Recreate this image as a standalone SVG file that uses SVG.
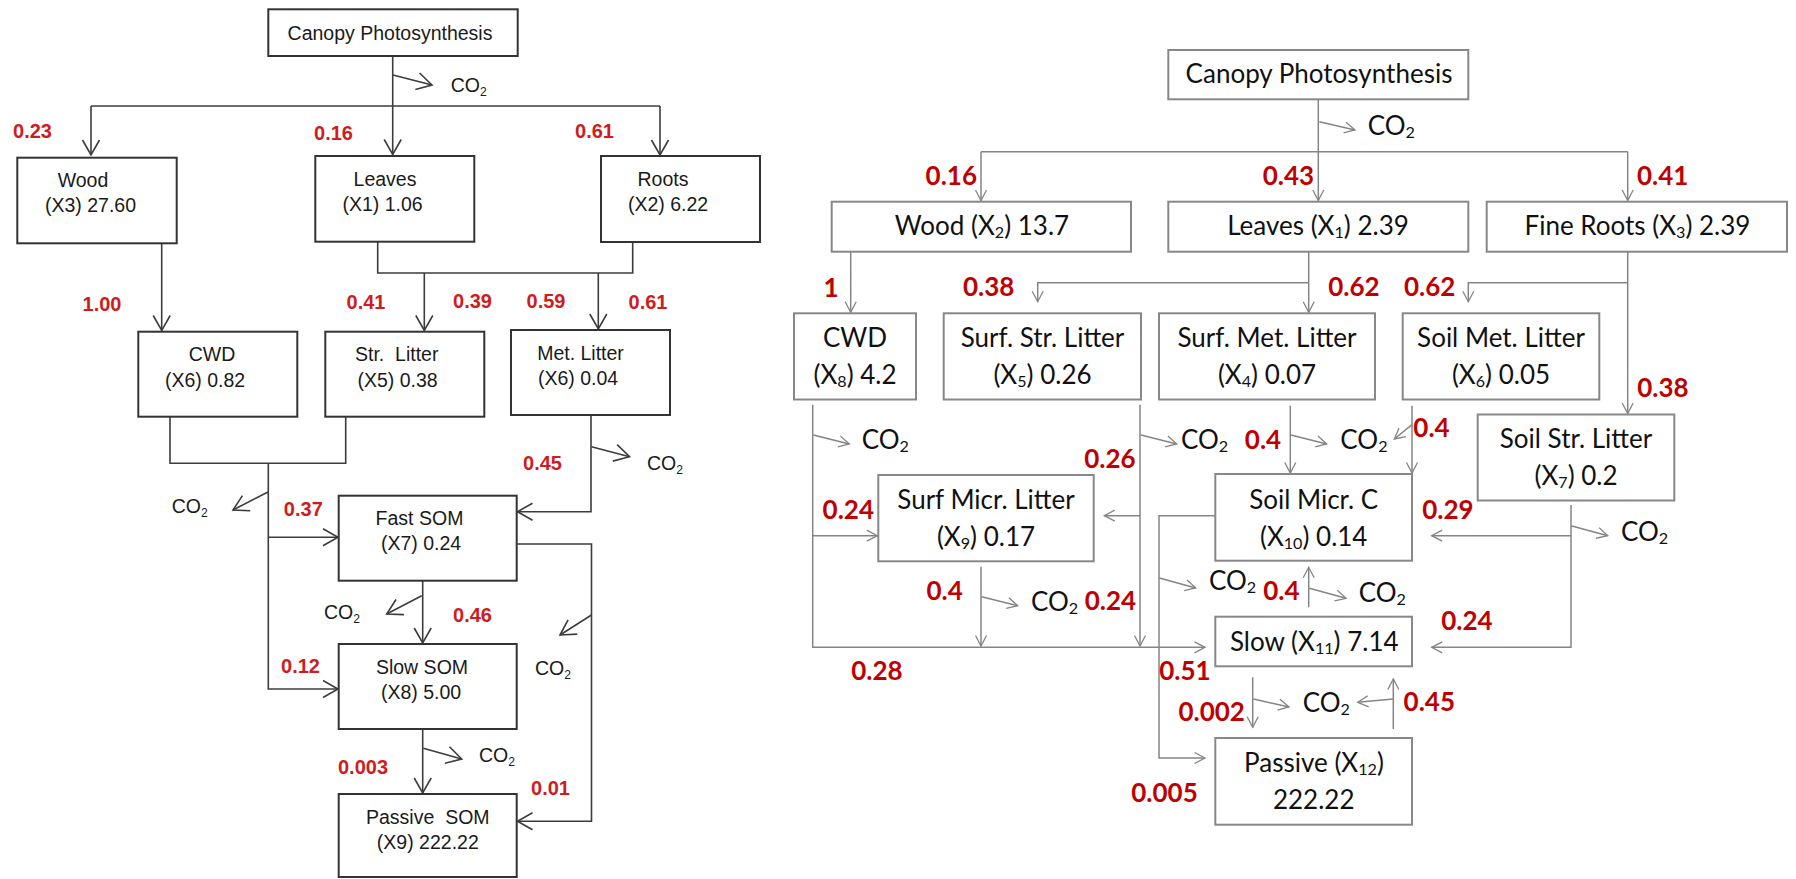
<svg xmlns="http://www.w3.org/2000/svg" width="1796" height="879" viewBox="0 0 1796 879">
<style>
.bl{fill:#fff;stroke:#333;stroke-width:2}
.br{fill:#fff;stroke:#888;stroke-width:2}
.cl{fill:none;stroke:#3c3c3c;stroke-width:1.6}
.cr{fill:none;stroke:#858585;stroke-width:1.5}
.ml{marker-end:url(#al)}
.mr{marker-end:url(#ar)}
.lt{font-family:"Liberation Sans",Arial,sans-serif;font-size:19.5px;fill:#1a1a1a;text-anchor:middle}
.lc{font-family:"Liberation Sans",Arial,sans-serif;font-size:19.5px;fill:#1a1a1a}
.ll{font-family:"Liberation Sans",Arial,sans-serif;font-size:20px;font-weight:bold;fill:#d01c1c;text-anchor:middle}
.rt{font-family:Lato,"Liberation Sans",sans-serif;font-size:26px;fill:#111;text-anchor:middle}
.rc{font-family:Lato,"Liberation Sans",sans-serif;font-size:26px;fill:#111}
.rl{font-family:Lato,"Liberation Sans",sans-serif;font-size:26px;font-weight:bold;fill:#c00000;text-anchor:middle}
.s{font-size:62%}
</style>
<defs>
<marker id="al" markerUnits="userSpaceOnUse" viewBox="-17 -10 19 20" markerWidth="19" markerHeight="20" refX="0" refY="0" orient="auto" overflow="visible">
<path d="M-15,-8.5 L0,0 L-15,8.5" fill="none" stroke="#3c3c3c" stroke-width="1.6"/>
</marker>
<marker id="ar" markerUnits="userSpaceOnUse" viewBox="-12 -7 14 14" markerWidth="14" markerHeight="14" refX="0" refY="0" orient="auto" overflow="visible">
<path d="M-10.5,-5.5 L0,0 L-10.5,5.5" fill="none" stroke="#858585" stroke-width="1.3"/>
</marker>
</defs>
<rect width="1796" height="879" fill="#fff"/>

<g id="connectors">
<g id="left-connectors">
<path class="cl ml" d="M392.7,56 V154.5"/>
<path class="cl ml" d="M393,75 L432,85"/>
<path class="cl" d="M91,106 H660"/>
<path class="cl ml" d="M91,106 V155"/>
<path class="cl ml" d="M660,106 V155"/>
<path class="cl ml" d="M161.7,243.3 V330.5"/>
<path class="cl" d="M377.7,241.7 V273 H632.7 V242"/>
<path class="cl ml" d="M424.3,273 V330.5"/>
<path class="cl ml" d="M598.3,273 V329"/>
<path class="cl" d="M170,416.7 V463.3 H345.7 V415"/>
<path class="cl ml" d="M268.3,463.3 V689 H338"/>
<path class="cl ml" d="M268.3,537.3 H338"/>
<path class="cl ml" d="M268,492 L233,510"/>
<path class="cl ml" d="M591,415 V511.7 H517.5"/>
<path class="cl ml" d="M591.5,446.7 L629.5,456.7"/>
<path class="cl ml" d="M516.7,544 H591.5 V821.3 H517.5"/>
<path class="cl ml" d="M591.5,615 L560,635"/>
<path class="cl ml" d="M422.7,580.7 V643"/>
<path class="cl ml" d="M421.7,595.7 L386.7,614"/>
<path class="cl ml" d="M422.7,729 V793"/>
<path class="cl ml" d="M423.3,748.3 L461.7,759"/>
</g>
<g id="right-connectors">
<path class="cr mr" d="M1318.3,99.3 V200.5"/>
<path class="cr mr" d="M1319.3,121.7 L1355,130"/>
<path class="cr" d="M981,151.7 H1627.7"/>
<path class="cr mr" d="M981,151.7 V200.5"/>
<path class="cr mr" d="M1627.7,151.7 V200.5"/>
<path class="cr mr" d="M850.7,251.7 V312.3"/>
<path class="cr mr" d="M1308.7,251.7 V312.3"/>
<path class="cr mr" d="M1308.7,282.7 H1037.7 V301.7"/>
<path class="cr mr" d="M1627.7,251.7 V413.5"/>
<path class="cr mr" d="M1627.7,282.7 H1468.3 V301.7"/>
<path class="cr mr" d="M812.7,404.7 V647.3 H1205"/>
<path class="cr mr" d="M812.7,535.7 H877.3"/>
<path class="cr mr" d="M813.3,435 L849.3,444"/>
<path class="cr mr" d="M1140,404.7 V646"/>
<path class="cr mr" d="M1140,515.7 H1104.3"/>
<path class="cr mr" d="M1141,435 L1176.7,444"/>
<path class="cr mr" d="M981,566.7 V646"/>
<path class="cr mr" d="M981.7,596.7 L1017.7,605.7"/>
<path class="cr mr" d="M1290.3,405.7 V473"/>
<path class="cr mr" d="M1291,435 L1326.7,444"/>
<path class="cr mr" d="M1412,405.7 V473"/>
<path class="cr mr" d="M1412,424.7 L1394.3,439"/>
<path class="cr mr" d="M1215.3,515.7 H1159 V758 H1205"/>
<path class="cr mr" d="M1159.3,578 L1195.7,588"/>
<path class="cr mr" d="M1308.7,607.3 V567.3"/>
<path class="cr mr" d="M1309.3,588.3 L1346,598.3"/>
<path class="cr mr" d="M1571,505 V647.3 H1431.7"/>
<path class="cr mr" d="M1571,535.7 H1431.7"/>
<path class="cr mr" d="M1571,525.7 L1607.7,535.7"/>
<path class="cr mr" d="M1252.7,677.3 V727.3"/>
<path class="cr mr" d="M1253.3,699 L1289,707"/>
<path class="cr mr" d="M1393.3,729 V679"/>
<path class="cr mr" d="M1393.3,699 L1357.7,702.3"/>
</g>
</g>

<g id="left-nodes">
<g id="l-canopy"><rect class="bl" x="268.3" y="9.3" width="249.4" height="46.7"/><text class="lt" x="390" y="40">Canopy Photosynthesis</text></g>
<g id="l-wood"><rect class="bl" x="17.3" y="157.7" width="159.4" height="85.6"/><text class="lt" x="83" y="187">Wood</text><text class="lt" x="90.5" y="212">(X3) 27.60</text></g>
<g id="l-leaves"><rect class="bl" x="315.3" y="156" width="159" height="85.7"/><text class="lt" x="385" y="186">Leaves</text><text class="lt" x="382.5" y="211">(X1) 1.06</text></g>
<g id="l-roots"><rect class="bl" x="601" y="156" width="159" height="86"/><text class="lt" x="663" y="186">Roots</text><text class="lt" x="668" y="211">(X2) 6.22</text></g>
<g id="l-cwd"><rect class="bl" x="138.3" y="331.7" width="159" height="85"/><text class="lt" x="212" y="361">CWD</text><text class="lt" x="205" y="387">(X6) 0.82</text></g>
<g id="l-str"><rect class="bl" x="325.3" y="331.7" width="159" height="85"/><text class="lt" x="396.7" y="361" xml:space="preserve">Str.  Litter</text><text class="lt" x="397.5" y="387">(X5) 0.38</text></g>
<g id="l-met"><rect class="bl" x="511" y="330" width="159" height="85"/><text class="lt" x="580.5" y="360">Met. Litter</text><text class="lt" x="578" y="385">(X6) 0.04</text></g>
<g id="l-fast"><rect class="bl" x="338.7" y="495.7" width="178" height="85"/><text class="lt" x="419.5" y="525">Fast SOM</text><text class="lt" x="421" y="549.7">(X7) 0.24</text></g>
<g id="l-slow"><rect class="bl" x="338.7" y="644" width="178" height="85"/><text class="lt" x="422" y="674">Slow SOM</text><text class="lt" x="421" y="699">(X8) 5.00</text></g>
<g id="l-passive"><rect class="bl" x="338.7" y="794" width="178" height="83"/><text class="lt" x="427.8" y="824" xml:space="preserve">Passive  SOM</text><text class="lt" x="427.8" y="849">(X9) 222.22</text></g>
</g>

<g id="left-labels">
<text class="ll" x="32.5" y="138">0.23</text>
<text class="ll" x="333.5" y="140">0.16</text>
<text class="ll" x="594.5" y="138">0.61</text>
<text class="ll" x="102" y="311">1.00</text>
<text class="ll" x="366" y="309">0.41</text>
<text class="ll" x="472.5" y="308">0.39</text>
<text class="ll" x="546" y="308">0.59</text>
<text class="ll" x="648" y="309">0.61</text>
<text class="ll" x="542.5" y="469.7">0.45</text>
<text class="ll" x="303.3" y="516">0.37</text>
<text class="ll" x="472.5" y="621.7">0.46</text>
<text class="ll" x="300.5" y="673">0.12</text>
<text class="ll" x="363" y="774">0.003</text>
<text class="ll" x="550.5" y="795">0.01</text>
<text class="lc" x="450.7" y="92">CO<tspan class="s" dy="4">2</tspan></text>
<text class="lc" x="171.7" y="513">CO<tspan class="s" dy="4">2</tspan></text>
<text class="lc" x="647" y="470">CO<tspan class="s" dy="4">2</tspan></text>
<text class="lc" x="324" y="619">CO<tspan class="s" dy="4">2</tspan></text>
<text class="lc" x="535" y="675">CO<tspan class="s" dy="4">2</tspan></text>
<text class="lc" x="479" y="762">CO<tspan class="s" dy="4">2</tspan></text>
</g>

<g id="right-nodes">
<g id="r-canopy"><rect class="br" x="1168.3" y="50" width="300" height="49.3"/><text class="rt" x="1319" y="83">Canopy Photosynthesis</text></g>
<g id="r-wood"><rect class="br" x="831.7" y="201.7" width="299.3" height="50"/><text class="rt" x="982" y="235">Wood (X<tspan class="s" dy="3">2</tspan><tspan dy="-3">) 13.7</tspan></text></g>
<g id="r-leaves"><rect class="br" x="1168.3" y="201.7" width="300" height="50"/><text class="rt" x="1318" y="235">Leaves (X<tspan class="s" dy="3">1</tspan><tspan dy="-3">) 2.39</tspan></text></g>
<g id="r-roots"><rect class="br" x="1486.7" y="201.7" width="300.3" height="50"/><text class="rt" x="1637.5" y="235">Fine Roots (X<tspan class="s" dy="3">3</tspan><tspan dy="-3">) 2.39</tspan></text></g>
<g id="r-cwd"><rect class="br" x="794" y="313.3" width="122" height="86.2"/><text class="rt" x="855" y="346.7">CWD</text><text class="rt" x="855" y="384">(X<tspan class="s" dy="3">8</tspan><tspan dy="-3">) 4.2</tspan></text></g>
<g id="r-surfstr"><rect class="br" x="943.7" y="313.3" width="197.3" height="86.2"/><text class="rt" x="1042.5" y="346.7">Surf. Str. Litter</text><text class="rt" x="1042.5" y="384">(X<tspan class="s" dy="3">5</tspan><tspan dy="-3">) 0.26</tspan></text></g>
<g id="r-surfmet"><rect class="br" x="1159" y="313.3" width="216" height="86.2"/><text class="rt" x="1267" y="346.7">Surf. Met. Litter</text><text class="rt" x="1267" y="384">(X<tspan class="s" dy="3">4</tspan><tspan dy="-3">) 0.07</tspan></text></g>
<g id="r-soilmet"><rect class="br" x="1402.7" y="313.3" width="196.6" height="86.2"/><text class="rt" x="1501" y="346.7">Soil Met. Litter</text><text class="rt" x="1501" y="384">(X<tspan class="s" dy="3">6</tspan><tspan dy="-3">) 0.05</tspan></text></g>
<g id="r-soilstr"><rect class="br" x="1477.7" y="414.5" width="196.6" height="86"/><text class="rt" x="1576" y="448.3">Soil Str. Litter</text><text class="rt" x="1576" y="485">(X<tspan class="s" dy="3">7</tspan><tspan dy="-3">) 0.2</tspan></text></g>
<g id="r-surfmicr"><rect class="br" x="878.3" y="475" width="215.4" height="86.3"/><text class="rt" x="986" y="509">Surf Micr. Litter</text><text class="rt" x="986" y="546.3">(X<tspan class="s" dy="3">9</tspan><tspan dy="-3">) 0.17</tspan></text></g>
<g id="r-soilmicr"><rect class="br" x="1215.3" y="474" width="196.7" height="86.7"/><text class="rt" x="1313.7" y="509">Soil Micr. C</text><text class="rt" x="1313.7" y="545.7">(X<tspan class="s" dy="3">10</tspan><tspan dy="-3">) 0.14</tspan></text></g>
<g id="r-slow"><rect class="br" x="1215.3" y="616.7" width="196.7" height="49.6"/><text class="rt" x="1314.3" y="650.7">Slow (X<tspan class="s" dy="3">11</tspan><tspan dy="-3">) 7.14</tspan></text></g>
<g id="r-passive"><rect class="br" x="1215.3" y="738" width="196.7" height="86.7"/><text class="rt" x="1314" y="772.3">Passive (X<tspan class="s" dy="3">12</tspan><tspan dy="-3">)</tspan></text><text class="rt" x="1313.7" y="809">222.22</text></g>
</g>

<g id="right-labels">
<text class="rl" x="951.3" y="185">0.16</text>
<text class="rl" x="1288.5" y="185">0.43</text>
<text class="rl" x="1662.7" y="185">0.41</text>
<text class="rl" x="831" y="296.7">1</text>
<text class="rl" x="988.7" y="296">0.38</text>
<text class="rl" x="1354" y="296">0.62</text>
<text class="rl" x="1429.7" y="296">0.62</text>
<text class="rl" x="1663" y="396.7">0.38</text>
<text class="rl" x="1263" y="449">0.4</text>
<text class="rl" x="1431.5" y="437.3">0.4</text>
<text class="rl" x="1110" y="468.3">0.26</text>
<text class="rl" x="848.3" y="519">0.24</text>
<text class="rl" x="1448" y="519">0.29</text>
<text class="rl" x="944.7" y="599.7">0.4</text>
<text class="rl" x="1110.5" y="609.7">0.24</text>
<text class="rl" x="1281.3" y="600">0.4</text>
<text class="rl" x="1467" y="629.7">0.24</text>
<text class="rl" x="877" y="679.7">0.28</text>
<text class="rl" x="1185" y="679.7">0.51</text>
<text class="rl" x="1211.7" y="720.7">0.002</text>
<text class="rl" x="1429.3" y="710.7">0.45</text>
<text class="rl" x="1164.5" y="801.7">0.005</text>
<text class="rc" x="1367.7" y="135">CO<tspan class="s" dy="3">2</tspan></text>
<text class="rc" x="861.7" y="449">CO<tspan class="s" dy="3">2</tspan></text>
<text class="rc" x="1181" y="449">CO<tspan class="s" dy="3">2</tspan></text>
<text class="rc" x="1340.3" y="449">CO<tspan class="s" dy="3">2</tspan></text>
<text class="rc" x="1621" y="540.7">CO<tspan class="s" dy="3">2</tspan></text>
<text class="rc" x="1209" y="590">CO<tspan class="s" dy="3">2</tspan></text>
<text class="rc" x="1358.7" y="601.7">CO<tspan class="s" dy="3">2</tspan></text>
<text class="rc" x="1031" y="610.7">CO<tspan class="s" dy="3">2</tspan></text>
<text class="rc" x="1302.7" y="712.3">CO<tspan class="s" dy="3">2</tspan></text>
</g>
</svg>
